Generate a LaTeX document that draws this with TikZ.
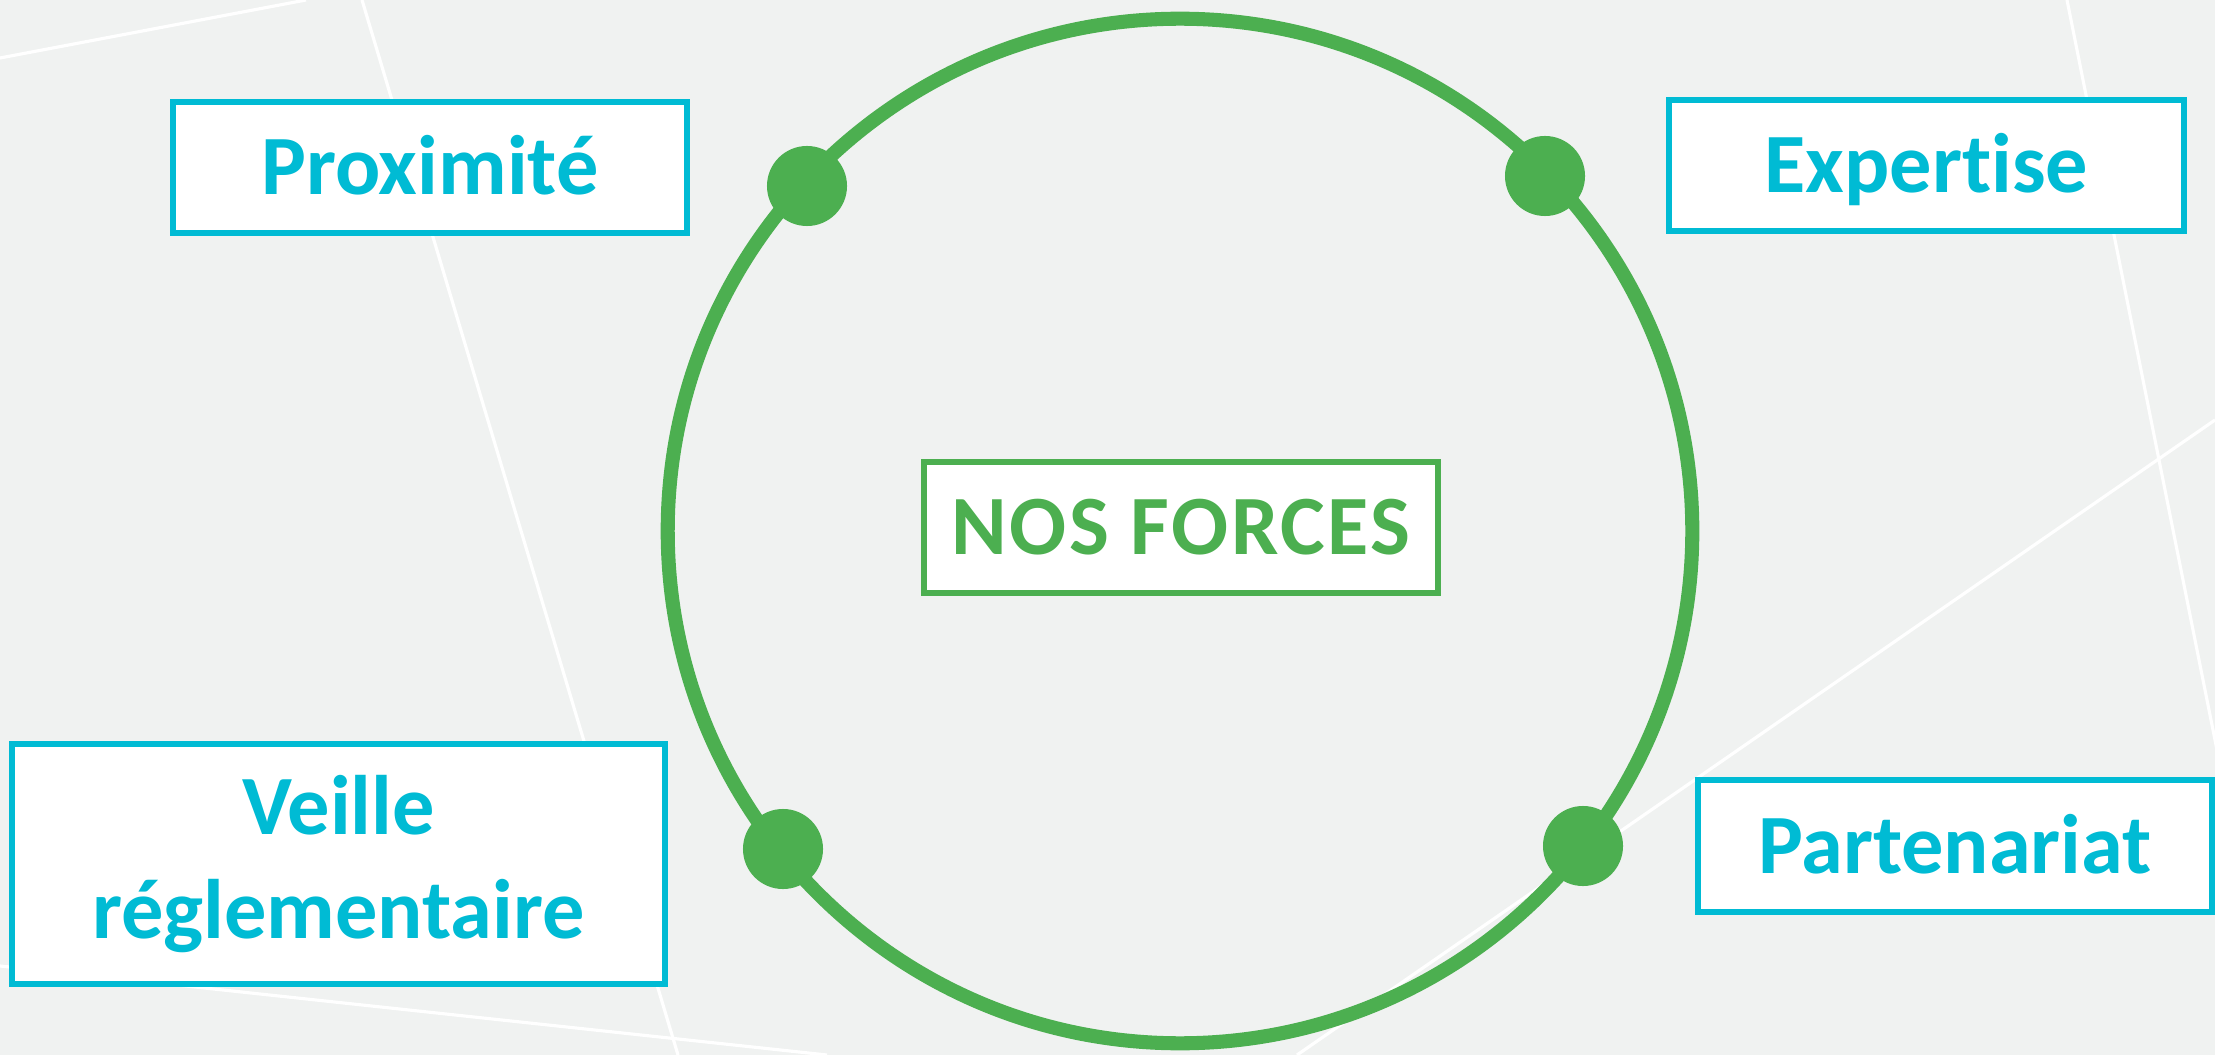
\documentclass[tikz,border=0pt]{standalone}
\usepackage{fontspec}
\setmainfont{Carlito}[Ligatures=NoCommon]
\definecolor{bggrey}{RGB}{240,242,241}
\definecolor{forcegreen}{RGB}{76,175,80}
\definecolor{forcecyan}{RGB}{0,187,212}
\begin{document}
\begin{tikzpicture}[x=0.01cm,y=-0.01cm,
  force/.style={draw=forcecyan,line width=1.7pt,fill=white,text=forcecyan,
    font=\fontsize{24}{29.5}\selectfont\bfseries,align=center,inner sep=0pt,
    minimum width=5.14cm,minimum height=1.31cm},
  oneline/.style={text height=0.54cm,text depth=0pt},
  dot/.style={circle,fill=forcegreen,inner sep=0pt,minimum size=0.8cm},
  bgline/.style={white,line width=0.9pt}]
\def\rad{5.12cm}
\useasboundingbox(0,0)rectangle(2215,1055);
\fill[bggrey](0,0)rectangle(2215,1055);
\begin{scope}
\clip(0,0)rectangle(2215,1055);
\draw[bgline](0,58)--(306,0);
\draw[bgline](362,0)--(678,1055);
\draw[bgline](0,966)--(827,1055);
\draw[bgline](2067,0)--(2278,1055);
\draw[bgline](2215,420)--(1297,1055);
\end{scope}
\draw[forcegreen,line width=4pt](1180,531)circle[radius=\rad];
\node[dot](dprox) at (807,186){};
\node[dot](dexpe) at (1545,176){};
\node[dot](dveil) at (783,849){};
\node[dot](dpart) at (1583,846){};
\node[force,oneline](prox) at (430,167.5){Proximité};
\node[force,oneline](expe) at (1926.5,165.5){Expertise};
\node[force,oneline,draw=forcegreen,text=forcegreen](forces) at (1181,527.5){\addfontfeature{LetterSpace=3}NOS FORCES};
\node[force,minimum width=6.53cm,minimum height=2.40cm](veil) at (338.5,864){Veille\\réglementaire};
\node[force,oneline](part) at (1955,846){Partenariat};
\end{tikzpicture}
\end{document}
